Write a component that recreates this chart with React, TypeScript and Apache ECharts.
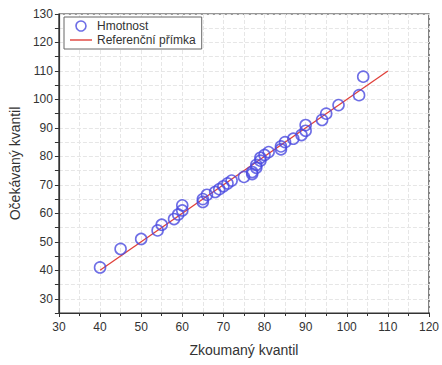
import React, { useEffect, useRef } from "react";
import * as echarts from "echarts";

const seriesNames = ["Hmotnost", "Referenční přímka"];
const observedX = [40, 45, 50, 54, 55, 58, 59, 60, 60, 65, 65, 66, 68, 69, 70, 71, 72, 75, 77, 77, 78, 78, 79, 79, 80, 81, 84, 84, 85, 87, 89, 90, 90, 94, 95, 98, 103, 104];
const expectedY = [41, 47.5, 51, 54, 56, 58, 59.6, 61, 62.8, 64, 65, 66.5, 67.5, 68.5, 69.5, 70.5, 71.5, 72.8, 73.8, 74.5, 76, 77, 78.5, 79.5, 80.5, 81.5, 82.5, 83.5, 85, 86.2, 87.5, 89, 91, 92.8, 95, 98, 101.5, 108];
const refLineX = [40, 110];
const refLineY = [40, 110];
const xAxisTitle = "Zkoumaný kvantil";
const yAxisTitle = "Očekávaný kvantil";

export default function App() {
  const ref = useRef<HTMLDivElement>(null);
  useEffect(() => {
    if (!ref.current) return;
    const chart = echarts.init(ref.current, null, { renderer: "svg" });
    const font = "Liberation Sans, Arial, sans-serif";
    const gridLine = { show: true, lineStyle: { color: "#e6e6e6", type: "dashed" as const, width: 1 } };
    chart.setOption({
      animation: false,
      textStyle: { fontFamily: font },
      grid: { left: 58, right: 12, top: 14, bottom: 52, show: true, borderColor: "#333", borderWidth: 1.2 },
      legend: {
        orient: "vertical",
        left: 64,
        top: 17,
        backgroundColor: "#fff",
        borderColor: "#666",
        borderWidth: 1,
        borderRadius: 0,
        padding: [3, 6, 3, 6],
        itemGap: 2,
        itemWidth: 22,
        itemHeight: 10,
        textStyle: { fontFamily: font, fontSize: 12, color: "#333" },
        data: [
          { name: seriesNames[0], icon: "circle", itemStyle: { color: "rgba(255,255,255,0)", borderColor: "#4a4ae0", borderWidth: 1.6 } },
          { name: seriesNames[1], icon: "path://M0,0 L22,0 L22,1.4 L0,1.4 Z", itemStyle: { color: "#e0403a" } },
        ],
      },
      xAxis: {
        type: "value",
        min: 30,
        max: 120,
        interval: 10,
        name: xAxisTitle,
        nameLocation: "middle",
        nameGap: 30,
        nameTextStyle: { fontSize: 14, color: "#333", fontFamily: font },
        axisLine: { show: true, lineStyle: { color: "#333", width: 1.2 } },
        axisTick: { show: true, inside: false, length: 4, lineStyle: { color: "#333" } },
        minorTick: { show: true, splitNumber: 2, length: 3, lineStyle: { color: "#333" } },
        axisLabel: { fontSize: 12, color: "#333", fontFamily: font, margin: 8 },
        splitLine: gridLine,
        minorSplitLine: gridLine,
      },
      yAxis: {
        type: "value",
        min: 25,
        max: 130,
        interval: 5,
        name: yAxisTitle,
        nameLocation: "middle",
        nameGap: 34,
        nameTextStyle: { fontSize: 14, color: "#333", fontFamily: font },
        axisLine: { show: true, lineStyle: { color: "#333", width: 1.2 } },
        axisTick: { show: true, inside: false, length: 4, lineStyle: { color: "#333" } },
        axisLabel: {
          fontSize: 12,
          color: "#333",
          fontFamily: font,
          margin: 6,
          formatter: (v: number) => (v % 10 === 0 ? String(v) : ""),
        },
        splitLine: gridLine,
      },
      series: [
        {
          name: seriesNames[0],
          type: "scatter",
          symbol: "circle",
          symbolSize: 11,
          itemStyle: { color: "rgba(255,255,255,0)", borderColor: "#4a4ae0", borderWidth: 1.6 },
          data: observedX.map((x, i) => [x, expectedY[i]]),
          z: 3,
        },
        {
          name: seriesNames[1],
          type: "line",
          showSymbol: false,
          symbol: "none",
          lineStyle: { color: "#e0403a", width: 1.3 },
          itemStyle: { color: "#e0403a" },
          data: refLineX.map((x, i) => [x, refLineY[i]]),
          z: 2,
        },
      ],
    });
    return () => chart.dispose();
  }, []);
  return <div ref={ref} style={{ width: 442, height: 365, position: "absolute", left: 0, top: 0 }} />;
}
